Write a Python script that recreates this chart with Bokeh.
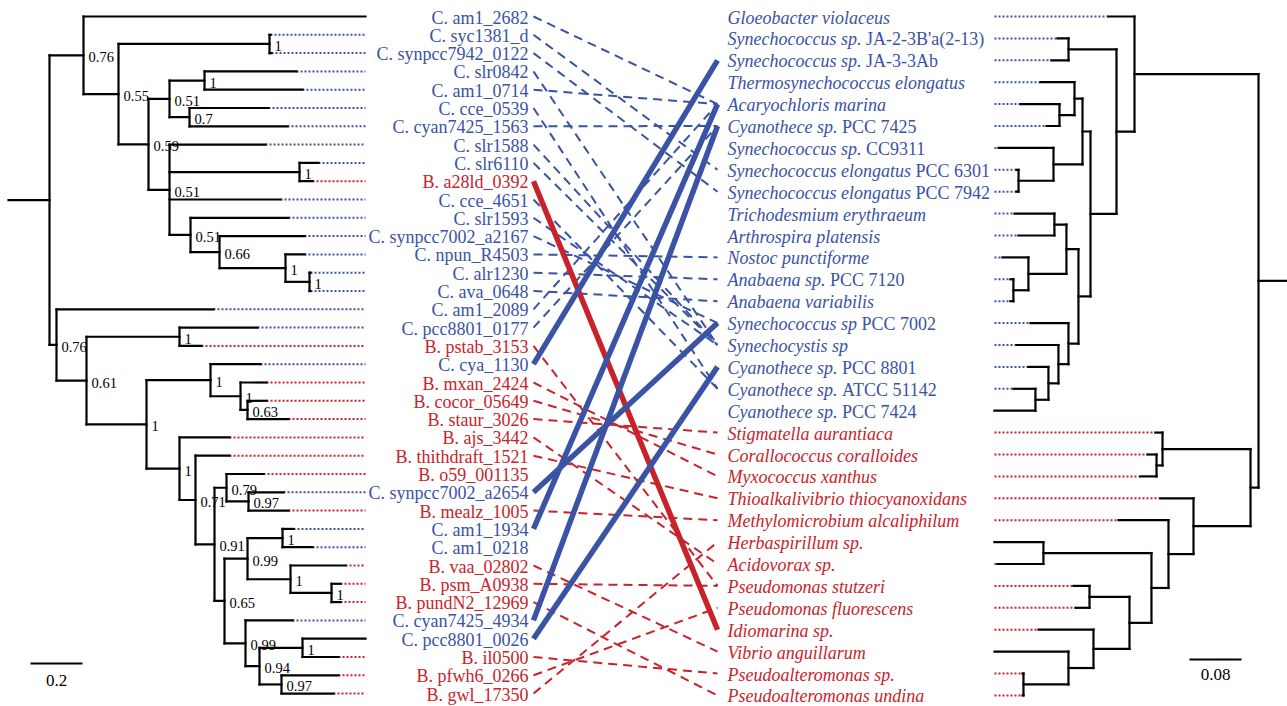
from bokeh.plotting import figure
from bokeh.models import ColumnDataSource, Range1d
from bokeh.core.properties import value
from bokeh.embed import file_html
from bokeh.resources import INLINE

BLUE = "#3a53a4"
RED = "#c8232b"
FONT = "Liberation Serif"

# ---------------- data ----------------
# gene tree (left): leaf = group|gene, internal label = support, lengths = substitutions/site
gene_tree = (
    "(("
    "C|am1_2682:1.0846,"
    "((C|syc1381_d:0.0038,C|synpcc7942_0122:0.0077)1:0.5808,"
    "(((C|slr0842:0.3538,C|am1_0714:0.3769)1:0.1346,(C|cce_0539:0.3038,C|cyan7425_1563:0.3769)0.7:0.0769)0.51:0.0808,"
    "(C|slr1588:0.3692,(C|slr6110:0.0731,B|a28ld_0392:0.05)1:0.5,C|cce_4651:0.4269,"
    "(C|slr1593:0.3769,(C|synpcc7002_a2167:0.3269,(C|npun_R4503:0.0731,(C|alr1230:0.0038,C|ava_0648:0.0038)1:0.0923)1:0.2538)0.66:0.1115)0.51:0.0808"
    ")0.51:0.0808"
    ")0.59:0.1154"
    ")0.55:0.1346"
    ")0.76:0.1308,"
    "(C|am1_2089:0.6038,"
    "((C|pcc8801_0177:0.3,B|pstab_3153:0.0846)1:0.3577,"
    "("
    "(C|cya_1130:0.1923,(B|mxan_2424:0.1,(B|cocor_05649:0.0731,B|staur_3026:0.1577)0.63:0.0269)1:0.1154)1:0.2462,"
    "(B|ajs_3442:0.1923,"
    "(B|thithdraft_1521:0.1308,"
    "("
    "(B|o59_001135:0.1423,(C|synpcc7002_a2654:0.1346,B|mealz_1005:0.1538)0.97:0.0846)0.79:0.0462,"
    "("
    "((C|am1_1934:0.0423,C|am1_0218:0.1154)1:0.1346,(B|vaa_02802:0.2115,(B|psm_A0938:0.0346,B|pundN2_12969:0.0346)1:0.1577)1:0.1654)0.99:0.0885,"
    "(C|cyan7425_4934:0.1808,((C|pcc8801_0026:0.2423,B|il0500:0.1385)1:0.1654,(B|pfwh6_0266:0.2192,B|gwl_17350:0.2)0.97:0.0846)0.94:0.0538)0.99:0.0808"
    ")0.65:0.0385"
    ")0.91:0.0731"
    ")0.71:0.0615"
    ")1:0.1269"
    ")1:0.2308"
    ")0.61:0.1154"
    ")0.76:0.0269"
    "):0.1577;"
)

# species tree (right)
species_tree = (
    "(("
    "Gvio:0.04,"
    "((SJA2:0.0169,SJA3:0.0262):0.0738,"
    "("
    "((Tel:0.0523,(Amar:0.06,C7425:0.02):0.0231):0.0123,(S9311:0.0846,(S6301:0.0031,S7942:0.0031):0.0538):0.0446):0.0123,"
    "(((Tery:0.0615,Apla:0.0554):0.0185,(Npun:0.04,(A7120:0.0046,Avar:0.0046):0.0231):0.0585):0.0185,"
    "(S7002:0.0585,(Ssp:0.0646,(C8801:0.0308,(C51142:0.0338,C7424:0.0631):0.02):0.0154):0.0154):0.0154):0.0185"
    "):0.04"
    "):0.0277"
    "):0.1908,"
    "((Saur:0.0108,(Ccor:0.0138,Mxan:0.0246):0.0092):0.1354,"
    "(Tthi:0.0508,(Malc:0.0769,((Hsp:0.0754,Asp:0.0708):0.1662,((Pstu:0.0246,Pflu:0.0215):0.0615,"
    "(Isp:0.0846,(Vang:0.1138,(Psp:0.0015,Pund:0.0015):0.0692):0.0385):0.0554):0.0338):0.0262):0.0385):0.0877"
    "):0.0123"
    "):0.0446;"
)

species_ids = ["Gvio", "SJA2", "SJA3", "Tel", "Amar", "C7425", "S9311", "S6301", "S7942",
               "Tery", "Apla", "Npun", "A7120", "Avar", "S7002", "Ssp", "C8801", "C51142",
               "C7424", "Saur", "Ccor", "Mxan", "Tthi", "Malc", "Hsp", "Asp", "Pstu", "Pflu",
               "Isp", "Vang", "Psp", "Pund"]
species_italic = ["Gloeobacter violaceus", "Synechococcus sp.", "Synechococcus sp.",
                  "Thermosynechococcus elongatus", "Acaryochloris marina", "Cyanothece sp.",
                  "Synechococcus sp.", "Synechococcus elongatus", "Synechococcus elongatus",
                  "Trichodesmium erythraeum", "Arthrospira platensis", "Nostoc punctiforme",
                  "Anabaena sp.", "Anabaena variabilis", "Synechococcus sp", "Synechocystis sp",
                  "Cyanothece sp.", "Cyanothece sp.", "Cyanothece sp.", "Stigmatella aurantiaca",
                  "Corallococcus coralloides", "Myxococcus xanthus",
                  "Thioalkalivibrio thiocyanoxidans", "Methylomicrobium alcaliphilum",
                  "Herbaspirillum sp.", "Acidovorax sp.", "Pseudomonas stutzeri",
                  "Pseudomonas fluorescens", "Idiomarina sp.", "Vibrio anguillarum",
                  "Pseudoalteromonas sp.", "Pseudoalteromonas undina"]
species_strain = ["", "JA-2-3B'a(2-13)", "JA-3-3Ab", "", "", "PCC 7425", "CC9311", "PCC 6301",
                  "PCC 7942", "", "", "", "PCC 7120", "", "PCC 7002", "", "PCC 8801",
                  "ATCC 51142", "PCC 7424", "", "", "", "", "", "", "", "", "", "", "", "", ""]
species_group = ["C", "C", "C", "C", "C", "C", "C", "C", "C", "C", "C", "C", "C", "C", "C", "C",
                 "C", "C", "C", "B", "B", "B", "B", "B", "B", "B", "B", "B", "B", "B", "B", "B"]

# gene -> species links
link_gene = ["am1_2682", "syc1381_d", "synpcc7942_0122", "slr0842", "am1_0714", "cce_0539",
             "cyan7425_1563", "slr1588", "slr6110", "cce_4651", "slr1593", "synpcc7002_a2167",
             "npun_R4503", "alr1230", "ava_0648", "am1_2089", "pcc8801_0177",
             "pstab_3153", "mxan_2424", "cocor_05649", "staur_3026", "ajs_3442",
             "thithdraft_1521", "mealz_1005", "vaa_02802", "psm_A0938", "pundN2_12969",
             "il0500", "pfwh6_0266", "gwl_17350",
             "a28ld_0392", "cya_1130", "synpcc7002_a2654", "am1_1934", "cyan7425_4934",
             "pcc8801_0026"]
link_species = ["Amar", "S6301", "S7942", "Ssp", "Amar", "C51142",
                "C7425", "Ssp", "Ssp", "C51142", "Ssp", "S7002",
                "Npun", "A7120", "Avar", "Amar", "C7425",
                "Pstu", "Mxan", "Ccor", "Saur", "Asp",
                "Tthi", "Malc", "Vang", "Pstu", "Pund",
                "Psp", "Pflu", "Hsp",
                "Isp", "SJA3", "S7002", "Amar", "C7425", "C8801"]
link_kind = ["dash"] * 30 + ["thick"] * 6

left_scale_value = 0.2
right_scale_value = 0.08

# ---------------- layout constants (pixel coordinates) ----------------
W, H = 1287, 706
LX0, LPX = 8, 260.0           # left tree origin / px per unit
LTOP, LSTEP = 16.0, 18.3
LEADER_END = 365
LLABEL_X = 528
RX0, RPX = 1287, 650.0        # right tree origin (mirrored)
RTOP, RSTEP = 16.0, 21.9
RLEADER_START = 994
RLABEL_X = 727
LINK_X0, LINK_X1 = 533, 717
LABEL_SIZE = 18

ITALIC_W = {' ': 250, '.': 250, 'A': 611, 'C': 667, 'G': 722, 'H': 722, 'I': 333, 'M': 833,
            'N': 667, 'P': 611, 'S': 500, 'T': 556, 'V': 611, 'a': 500, 'b': 500, 'c': 444,
            'd': 500, 'e': 444, 'f': 278, 'g': 500, 'h': 500, 'i': 278, 'j': 278, 'k': 444,
            'l': 278, 'm': 722, 'n': 500, 'o': 500, 'p': 500, 'q': 500, 'r': 389, 's': 389,
            't': 278, 'u': 500, 'v': 444, 'w': 667, 'x': 444, 'y': 444, 'z': 389}


def text_width(s, size):
    return sum(ITALIC_W.get(ch, 500) for ch in s) * size / 1000.0


def parse_newick(s):
    s = "".join(s.split()).rstrip(";")
    pos = 0

    def node():
        nonlocal pos
        n = {"children": [], "name": "", "len": 0.0}
        if s[pos] == "(":
            pos += 1
            while True:
                n["children"].append(node())
                if s[pos] == ",":
                    pos += 1
                    continue
                if s[pos] == ")":
                    pos += 1
                    break
        start = pos
        while pos < len(s) and s[pos] not in ":,()":
            pos += 1
        n["name"] = s[start:pos]
        if pos < len(s) and s[pos] == ":":
            pos += 1
            start = pos
            while pos < len(s) and s[pos] not in ",()":
                pos += 1
            n["len"] = float(s[start:pos])
        return n

    return node()


def prepare(tree_str, fy):
    root = parse_newick(tree_str)
    leaves = []

    def rec(n, d):
        n["depth"] = d + n["len"]
        if not n["children"]:
            n["idx"] = len(leaves)
            leaves.append(n)
        for c in n["children"]:
            rec(c, n["depth"])

    rec(root, 0.0)

    def sety(n):
        if not n["children"]:
            n["y"] = fy(n["idx"])
            return
        for c in n["children"]:
            sety(c)
        n["y"] = (n["children"][0]["y"] + n["children"][-1]["y"]) / 2.0

    sety(root)
    return root, leaves


def tree_segments(root, fx, stem_to):
    x0, y0, x1, y1 = [stem_to], [root["y"]], [fx(root["depth"])], [root["y"]]
    internals = []
    stack = [root]
    while stack:
        n = stack.pop()
        if n["children"]:
            x = fx(n["depth"])
            x0.append(x); x1.append(x)
            y0.append(n["children"][0]["y"]); y1.append(n["children"][-1]["y"])
            for c in n["children"]:
                x0.append(x); x1.append(fx(c["depth"]))
                y0.append(c["y"]); y1.append(c["y"])
                stack.append(c)
            internals.append(n)
    return dict(x0=x0, y0=y0, x1=x1, y1=y1), internals


def lfx(d):
    return LX0 + LPX * d


def rfx(d):
    return RX0 - RPX * d


groot, gleaves = prepare(gene_tree, lambda i: LTOP + LSTEP * i)
sroot, sleaves = prepare(species_tree, lambda i: RTOP + RSTEP * i)

p = figure(width=W, height=H, x_range=Range1d(0, W), y_range=Range1d(H, 0),
           output_backend="svg", toolbar_location=None, x_axis_type=None, y_axis_type=None,
           min_border=0)
p.grid.visible = False
p.outline_line_color = None
p.background_fill_color = "white"

colour = {"C": BLUE, "B": RED}

# ---- left leaders
lx0, ly, lx1, lc = [], [], [], []
for lf in gleaves:
    grp = lf["name"].split("|")[0]
    x = lfx(lf["depth"])
    if x < LEADER_END - 1:
        lx0.append(x); lx1.append(LEADER_END); ly.append(lf["y"]); lc.append(colour[grp])
p.segment(x0="x0", y0="y", x1="x1", y1="y", line_color="c", line_width=2, line_dash="2 2",
          source=ColumnDataSource(dict(x0=lx0, x1=lx1, y=ly, c=lc)))

# ---- right leaders
sgroup = dict(zip(species_ids, species_group))
rx0, ry, rx1, rc = [], [], [], []
for lf in sleaves:
    x = rfx(lf["depth"])
    if x > RLEADER_START + 1:
        rx0.append(RLEADER_START); rx1.append(x); ry.append(lf["y"])
        rc.append(colour[sgroup[lf["name"]]])
p.segment(x0="x0", y0="y", x1="x1", y1="y", line_color="c", line_width=2, line_dash="2 2",
          source=ColumnDataSource(dict(x0=rx0, x1=rx1, y=ry, c=rc)))

# ---- trees
gseg, ginternal = tree_segments(groot, lfx, LX0)
p.segment(x0="x0", y0="y0", x1="x1", y1="y1", line_color="black", line_width=2.2,
          line_cap="square", source=ColumnDataSource(gseg))
sseg, _ = tree_segments(sroot, rfx, RX0)
p.segment(x0="x0", y0="y0", x1="x1", y1="y1", line_color="black", line_width=2.2,
          line_cap="square", source=ColumnDataSource(sseg))

# support values
sx = [lfx(n["depth"]) for n in ginternal if n["name"]]
sy = [n["y"] for n in ginternal if n["name"]]
st = [n["name"] for n in ginternal if n["name"]]
p.text(x="x", y="y", text="t", source=ColumnDataSource(dict(x=sx, y=sy, t=st)),
       x_offset=5, y_offset=2, text_font=value(FONT), text_font_size="14.5px",
       text_baseline="middle", text_align="left", text_color="black")

# ---- links
gene_y = {lf["name"].split("|")[1]: lf["y"] for lf in gleaves}
gene_grp = {lf["name"].split("|")[1]: lf["name"].split("|")[0] for lf in gleaves}
spec_y = {lf["name"]: lf["y"] for lf in sleaves}
for kind, width, dash in (("dash", 2, "9 6"), ("thick", 5.5, "solid")):
    d = dict(x0=[], y0=[], x1=[], y1=[], c=[])
    for g, s, k in zip(link_gene, link_species, link_kind):
        if k != kind:
            continue
        d["x0"].append(LINK_X0); d["y0"].append(gene_y[g])
        d["x1"].append(LINK_X1); d["y1"].append(spec_y[s])
        d["c"].append(colour[gene_grp[g]])
    p.segment(x0="x0", y0="y0", x1="x1", y1="y1", line_color="c", line_width=width,
              line_dash=dash, source=ColumnDataSource(d))

# ---- left labels
p.text(x="x", y="y", text="t", source=ColumnDataSource(dict(
    x=[LLABEL_X] * len(gleaves), y=[lf["y"] for lf in gleaves],
    t=[lf["name"].replace("|", ". ") for lf in gleaves],
    c=[colour[lf["name"].split("|")[0]] for lf in gleaves])),
    y_offset=1, text_font=value(FONT), text_font_size=f"{LABEL_SIZE}px",
    text_baseline="middle", text_align="right", text_color="c")

# ---- right labels (italic binomial + roman strain)
sy_ = [spec_y[s] for s in species_ids]
scol = [colour[g] for g in species_group]
p.text(x="x", y="y", text="t", source=ColumnDataSource(dict(
    x=[RLABEL_X] * len(species_ids), y=sy_, t=species_italic, c=scol)),
    y_offset=1, text_font=value(FONT), text_font_size=f"{LABEL_SIZE}px", text_font_style="italic",
    text_baseline="middle", text_align="left", text_color="c")
idx = [i for i, s in enumerate(species_strain) if s]
p.text(x="x", y="y", text="t", source=ColumnDataSource(dict(
    x=[RLABEL_X] * len(idx), y=[sy_[i] for i in idx], t=[species_strain[i] for i in idx],
    c=[scol[i] for i in idx],
    o=[text_width(species_italic[i] + " ", LABEL_SIZE) for i in idx])),
    x_offset="o", y_offset=1, text_font=value(FONT), text_font_size=f"{LABEL_SIZE}px",
    text_baseline="middle", text_align="left", text_color="c")

# ---- scale bars
p.segment(x0=[30, 1189], y0=[663, 659],
          x1=[30 + LPX * left_scale_value, 1189 + RPX * right_scale_value], y1=[663, 659],
          line_color="black", line_width=2)
p.text(x=[30 + LPX * left_scale_value / 2, 1189 + RPX * right_scale_value / 2], y=[680, 674],
       text=[str(left_scale_value), str(right_scale_value)], text_font=value(FONT),
       text_font_size="17px", text_align="center", text_baseline="middle", text_color="black")

open("out.html", "w").write(file_html(p, INLINE))
